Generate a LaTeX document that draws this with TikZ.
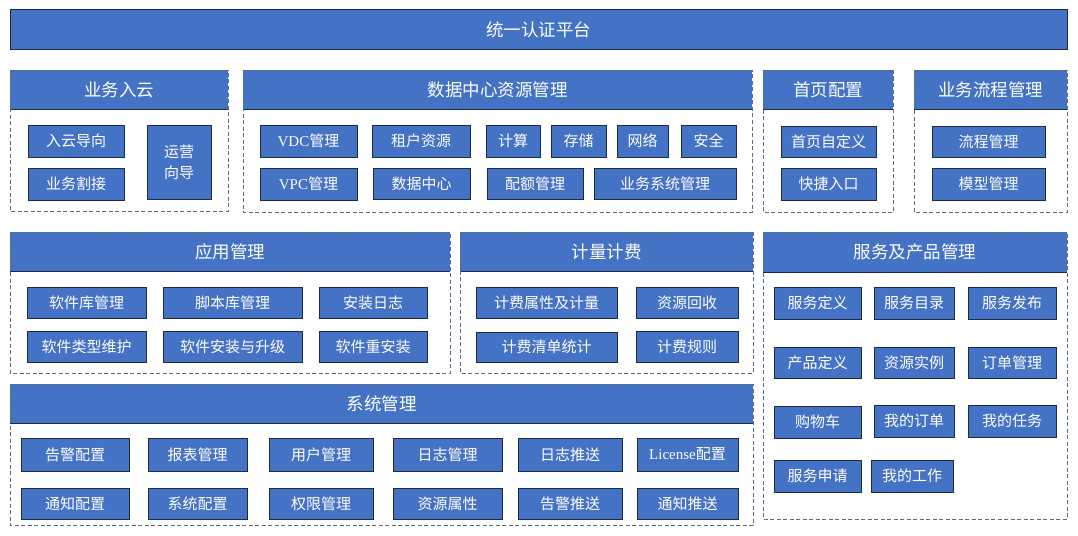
\documentclass[tikz,border=0pt]{standalone}
\usepackage{fontspec}
\setmainfont{Liberation Serif}
\newfontfamily\cjk{Noto Sans CJK SC}
\definecolor{boxblue}{HTML}{4472C4}
\definecolor{boxedge}{HTML}{1C2B45}
\definecolor{dashedge}{HTML}{5B6B82}
\tikzset{
  itembox/.style={draw=boxedge, line width=0.9pt, fill=boxblue, text=white, inner sep=0pt, outer sep=0pt, font=\cjk\fontsize{15}{21}\selectfont, align=center},
  headbox/.style={fill=boxblue, text=white, inner sep=0pt, outer sep=0pt, font=\cjk\fontsize{17.5}{21}\selectfont},
  panelline/.style={draw=dashedge, line width=0.8pt, dash pattern=on 4pt off 2.5pt},
  headline/.style={draw=boxedge, line width=1pt}
}
% \bx{name}{x1}{y1}{x2}{y2}{text}
\newcommand{\bx}[6]{%
  \node[itembox, minimum width={(#4-#2)*1pt}, minimum height={(#5-#3)*1pt}] (#1) at ({(#2+#4)/2},{(#3+#5)/2}) {#6};}
% \pnl{name}{x1}{y1}{x2}{yh}{y2}{title}
\newcommand{\pnl}[7]{%
  \node[headbox, minimum width={(#4-#2)*1pt}, minimum height={(#5-#3)*1pt}] (#1) at ({(#2+#4)/2},{(#3+#5)/2}) {#7};
  \draw[headline] (#1.south west) -- (#1.south east);
  \coordinate (#1-bl) at (#2,#6);
  \coordinate (#1-br) at (#4,#6);
  \draw[panelline] (#1.north west) -- (#1.north east) -- (#1-br) -- (#1-bl) -- cycle;}
\begin{document}
\begin{tikzpicture}[x=1pt,y=-1pt]
\useasboundingbox[fill=white] (0,0) rectangle (1078,535);
% top bar
\node[headbox, draw=boxedge, line width=1pt, minimum width=1057pt, minimum height=40pt] (auth) at (538.5,30) {统一认证平台};
% panels
\pnl{p1}{10}{70}{228}{109}{211}{业务入云}
\pnl{p2}{243}{70}{752}{109}{212}{数据中心资源管理}
\pnl{p3}{763}{70}{893}{109}{212}{首页配置}
\pnl{p4}{914}{70}{1067}{109}{212}{业务流程管理}
\pnl{p5}{10}{232}{450}{271}{373}{应用管理}
\pnl{p6}{460}{232}{753}{271}{373}{计量计费}
\pnl{p7}{763}{232}{1067}{272}{519}{服务及产品管理}
\pnl{p8}{10}{384}{753}{423}{525}{系统管理}
% 业务入云
\bx{a1}{28}{125}{124}{157}{入云导向}
\bx{a2}{28}{168}{124}{200}{业务割接}
\bx{a3}{147}{125}{211}{199}{运营\\向导}
% 数据中心资源管理
\bx{b1}{260}{125}{357}{157}{{\rmfamily VDC}管理}
\bx{b2}{372}{125}{470}{157}{租户资源}
\bx{b3}{486}{125}{540}{157}{计算}
\bx{b4}{551}{125}{606}{157}{存储}
\bx{b5}{617}{125}{668}{157}{网络}
\bx{b6}{681}{125}{736}{157}{安全}
\bx{b7}{260}{168}{357}{200}{{\rmfamily VPC}管理}
\bx{b8}{373}{168}{470}{199}{数据中心}
\bx{b9}{487}{168}{583}{199}{配额管理}
\bx{b10}{594}{168}{736}{199}{业务系统管理}
% 首页配置
\bx{c1}{781}{126}{876}{157}{首页自定义}
\bx{c2}{781}{168}{876}{200}{快捷入口}
% 业务流程管理
\bx{d1}{932}{126}{1045}{157}{流程管理}
\bx{d2}{932}{168}{1045}{200}{模型管理}
% 应用管理
\bx{e1}{27}{287}{146}{318}{软件库管理}
\bx{e2}{163}{287}{302}{318}{脚本库管理}
\bx{e3}{319}{287}{427}{318}{安装日志}
\bx{e4}{27}{331}{146}{362}{软件类型维护}
\bx{e5}{163}{331}{302}{362}{软件安装与升级}
\bx{e6}{319}{331}{427}{362}{软件重安装}
% 计量计费
\bx{f1}{476}{287}{617}{318}{计费属性及计量}
\bx{f2}{636}{287}{738}{318}{资源回收}
\bx{f3}{476}{332}{617}{362}{计费清单统计}
\bx{f4}{636}{331}{738}{362}{计费规则}
% 服务及产品管理
\bx{g1}{774}{287}{861}{319}{服务定义}
\bx{g2}{874}{287}{954}{319}{服务目录}
\bx{g3}{968}{287}{1056}{319}{服务发布}
\bx{g4}{774}{347}{861}{378}{产品定义}
\bx{g5}{874}{347}{954}{378}{资源实例}
\bx{g6}{968}{347}{1056}{378}{订单管理}
\bx{g7}{774}{406}{861}{438}{购物车}
\bx{g8}{874}{405}{954}{437}{我的订单}
\bx{g9}{968}{405}{1056}{437}{我的任务}
\bx{g10}{774}{460}{861}{492}{服务申请}
\bx{g11}{871}{460}{953}{492}{我的工作}
% 系统管理
\bx{h1}{21}{438}{129}{471}{告警配置}
\bx{h2}{148}{438}{247}{471}{报表管理}
\bx{h3}{269}{438}{373}{471}{用户管理}
\bx{h4}{393}{438}{502}{471}{日志管理}
\bx{h5}{518}{438}{622}{471}{日志推送}
\bx{h6}{637}{438}{738}{471}{{\rmfamily License}配置}
\bx{h7}{21}{488}{129}{519}{通知配置}
\bx{h8}{148}{488}{247}{519}{系统配置}
\bx{h9}{269}{488}{373}{519}{权限管理}
\bx{h10}{393}{488}{502}{519}{资源属性}
\bx{h11}{518}{488}{622}{519}{告警推送}
\bx{h12}{637}{488}{738}{519}{通知推送}
\end{tikzpicture}
\end{document}
